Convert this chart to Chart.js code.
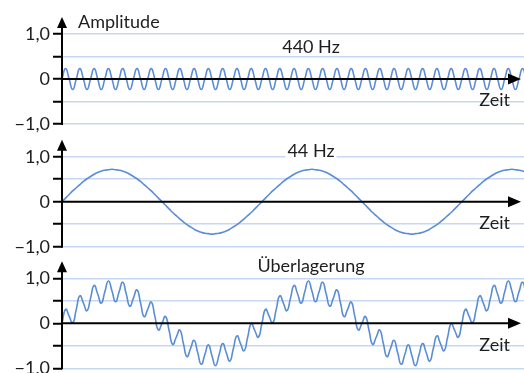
<!DOCTYPE html>
<html><head><meta charset="utf-8">
<script src="https://cdn.jsdelivr.net/npm/chart.js@4"></script>
<style>
html,body{margin:0;padding:0;width:524px;height:373px;overflow:hidden;background:#fff;}
canvas{position:absolute;left:0;top:0;}
</style></head><body>
<canvas id="c1" width="524" height="420"></canvas>
<canvas id="c2" width="524" height="420"></canvas>
<canvas id="c3" width="524" height="420"></canvas>
<script>
// ---- data (time unit = one period of the 440 Hz tone, sampled every quarter period) ----
const panelTitles = ['440 Hz', '44 Hz', 'Überlagerung'];
const yAxisTitle = 'Amplitude';
const xAxisTitle = 'Zeit';
const yTickValues = [-1, -0.5, 0, 0.5, 1];
const yTickLabels = ['−1,0', '', '0', '', '1,0'];
const sampleStep = 0.25;
const timeMax = 32.35;

const tone440 = [
  0, 0.23, 0, -0.23, 0, 0.23, 0, -0.23, 0, 0.23, 0, -0.23, 0, 0.23, 0, -0.23,
  0, 0.23, 0, -0.23, 0, 0.23, 0, -0.23, 0, 0.23, 0, -0.23, 0, 0.23, 0, -0.23,
  0, 0.23, 0, -0.23, 0, 0.23, 0, -0.23, 0, 0.23, 0, -0.23, 0, 0.23, 0, -0.23,
  0, 0.23, 0, -0.23, 0, 0.23, 0, -0.23, 0, 0.23, 0, -0.23, 0, 0.23, 0, -0.23,
  0, 0.23, 0, -0.23, 0, 0.23, 0, -0.23, 0, 0.23, 0, -0.23, 0, 0.23, 0, -0.23,
  0, 0.23, 0, -0.23, 0, 0.23, 0, -0.23, 0, 0.23, 0, -0.23, 0, 0.23, 0, -0.23,
  0, 0.23, 0, -0.23, 0, 0.23, 0, -0.23, 0, 0.23, 0, -0.23, 0, 0.23, 0, -0.23,
  0, 0.23, 0, -0.23, 0, 0.23, 0, -0.23, 0, 0.23, 0, -0.23, 0, 0.23, 0, -0.23,
  0, 0.23, 0
];

const tone44 = [
  0, 0.08, 0.16, 0.24, 0.31, 0.38, 0.45, 0.51, 0.56, 0.61, 0.65, 0.68, 0.70, 0.71,
  0.72, 0.71, 0.70, 0.68, 0.65, 0.61, 0.56, 0.51, 0.45, 0.38, 0.31, 0.24, 0.16, 0.08,
  0, -0.08, -0.16, -0.24, -0.31, -0.38, -0.45, -0.51, -0.56, -0.61, -0.65, -0.68, -0.70, -0.71,
  -0.72, -0.71, -0.70, -0.68, -0.65, -0.61, -0.56, -0.51, -0.45, -0.38, -0.31, -0.24, -0.16, -0.08,
  0, 0.08, 0.16, 0.24, 0.31, 0.38, 0.45, 0.51, 0.56, 0.61, 0.65, 0.68, 0.70, 0.71,
  0.72, 0.71, 0.70, 0.68, 0.65, 0.61, 0.56, 0.51, 0.45, 0.38, 0.31, 0.24, 0.16, 0.08,
  0, -0.08, -0.16, -0.24, -0.31, -0.38, -0.45, -0.51, -0.56, -0.61, -0.65, -0.68, -0.70, -0.71,
  -0.72, -0.71, -0.70, -0.68, -0.65, -0.61, -0.56, -0.51, -0.45, -0.38, -0.31, -0.24, -0.16, -0.08,
  0, 0.08, 0.16, 0.24, 0.31, 0.38, 0.45, 0.51, 0.56, 0.61, 0.65, 0.68, 0.70, 0.71,
  0.72, 0.71, 0.70, 0.68, 0.65
];

const superposition = [
  0, 0.31, 0.16, 0.01, 0.31, 0.61, 0.45, 0.28, 0.56, 0.84, 0.65, 0.45, 0.70, 0.94,
  0.72, 0.48, 0.70, 0.91, 0.65, 0.38, 0.56, 0.74, 0.45, 0.15, 0.31, 0.47, 0.16, -0.15,
  0, 0.15, -0.16, -0.47, -0.31, -0.15, -0.45, -0.74, -0.56, -0.38, -0.65, -0.91, -0.70, -0.48,
  -0.72, -0.94, -0.70, -0.45, -0.65, -0.84, -0.56, -0.28, -0.45, -0.61, -0.31, -0.01, -0.16, -0.31,
  0, 0.31, 0.16, 0.01, 0.31, 0.61, 0.45, 0.28, 0.56, 0.84, 0.65, 0.45, 0.70, 0.94,
  0.72, 0.48, 0.70, 0.91, 0.65, 0.38, 0.56, 0.74, 0.45, 0.15, 0.31, 0.47, 0.16, -0.15,
  0, 0.15, -0.16, -0.47, -0.31, -0.15, -0.45, -0.74, -0.56, -0.38, -0.65, -0.91, -0.70, -0.48,
  -0.72, -0.94, -0.70, -0.45, -0.65, -0.84, -0.56, -0.28, -0.45, -0.61, -0.31, -0.01, -0.16, -0.31,
  0, 0.31, 0.16, 0.01, 0.31, 0.61, 0.45, 0.28, 0.56, 0.84, 0.65, 0.45, 0.70, 0.94,
  0.72, 0.48, 0.70, 0.91, 0.65
];

const seriesList = [tone440, tone44, superposition];

// ---- layout / style ----
const CANVAS_H = 420;
const plotTops = [34, 156.7, 278.3];
const plotH = 90;
const titleCenterY = [47.5, 151.5, 266];
const FONT = '18px Lato';
const TEXT = '#1e1e1e';
const LINE = '#5b8dd6';
const GRID = '#c6d7f1';

const decor = {
  id: 'decor',
  afterDatasetsDraw(chart, args, o) {
    const ctx = chart.ctx, a = chart.chartArea, y = chart.scales.y;
    const x0 = a.left, y0 = y.getPixelForValue(0), yTop = y.getPixelForValue(1), yBot = y.getPixelForValue(-1);
    ctx.save();
    ctx.strokeStyle = '#000'; ctx.fillStyle = '#000'; ctx.lineWidth = 2;
    // vertical axis with arrow
    ctx.beginPath(); ctx.moveTo(x0, yBot + 1); ctx.lineTo(x0, yTop - 8); ctx.stroke();
    ctx.beginPath(); ctx.moveTo(x0, yTop - 17); ctx.lineTo(x0 - 5, yTop - 6); ctx.lineTo(x0 + 5, yTop - 6); ctx.closePath(); ctx.fill();
    // horizontal axis with arrow
    ctx.beginPath(); ctx.moveTo(x0, y0); ctx.lineTo(a.right - 12, y0); ctx.stroke();
    ctx.beginPath(); ctx.moveTo(a.right - 3, y0); ctx.lineTo(a.right - 16, y0 - 5.5); ctx.lineTo(a.right - 16, y0 + 5.5); ctx.closePath(); ctx.fill();
    // texts
    ctx.font = FONT; ctx.textBaseline = 'middle';
    ctx.fillStyle = TEXT; ctx.textAlign = 'right';
    ctx.fillText(xAxisTitle, 510, y0 + 21.5);
    if (o.showY) { ctx.textAlign = 'left'; ctx.fillText(yAxisTitle, 78, yTop - 12); }
    ctx.textAlign = 'center';
    const w = ctx.measureText(o.title).width;
    ctx.fillStyle = '#fff';
    ctx.fillRect(311 - w / 2 - 2, o.titleY - 8, w + 4, 16);
    ctx.fillStyle = TEXT;
    ctx.fillText(o.title, 311, o.titleY);
    ctx.restore();
  }
};

function makeChart(id, idx) {
  const vals = seriesList[idx];
  const pts = vals.map((v, i) => ({ x: i * sampleStep, y: v }));
  const top = plotTops[idx];
  return new Chart(document.getElementById(id), {
    type: 'line',
    data: { datasets: [{ data: pts, borderColor: LINE, borderWidth: 1.6, pointRadius: 0, tension: 0.55, fill: false }] },
    options: {
      responsive: false, animation: false, devicePixelRatio: 1,
      layout: { padding: { left: 0, right: 0, top: top, bottom: CANVAS_H - top - plotH } },
      plugins: { legend: { display: false }, tooltip: { enabled: false }, decor: { title: panelTitles[idx], titleY: titleCenterY[idx], showY: idx === 0 } },
      scales: {
        x: { type: 'linear', min: 0, max: timeMax, display: false },
        y: {
          min: -1, max: 1,
          afterFit(s) { s.width = 62; },
          afterBuildTicks(s) { s.ticks = yTickValues.map(v => ({ value: v })); },
          border: { display: false },
          grid: {
            color: c => (c.tick && c.tick.value === 0) ? 'rgba(0,0,0,0)' : GRID,
            lineWidth: 1.5, tickColor: '#000', tickWidth: 2, tickLength: 9, drawTicks: true
          },
          ticks: {
            autoSkip: false, padding: 3, color: TEXT, font: { family: 'Lato', size: 18 },
            callback: v => { const k = yTickValues.indexOf(v); return k >= 0 ? yTickLabels[k] : ''; }
          }
        }
      }
    },
    plugins: [decor]
  });
}

function go() { makeChart('c1', 0); makeChart('c2', 1); makeChart('c3', 2); }
if (document.fonts && document.fonts.load) { document.fonts.load(FONT).then(go, go); } else { go(); }
</script>
</body></html>
